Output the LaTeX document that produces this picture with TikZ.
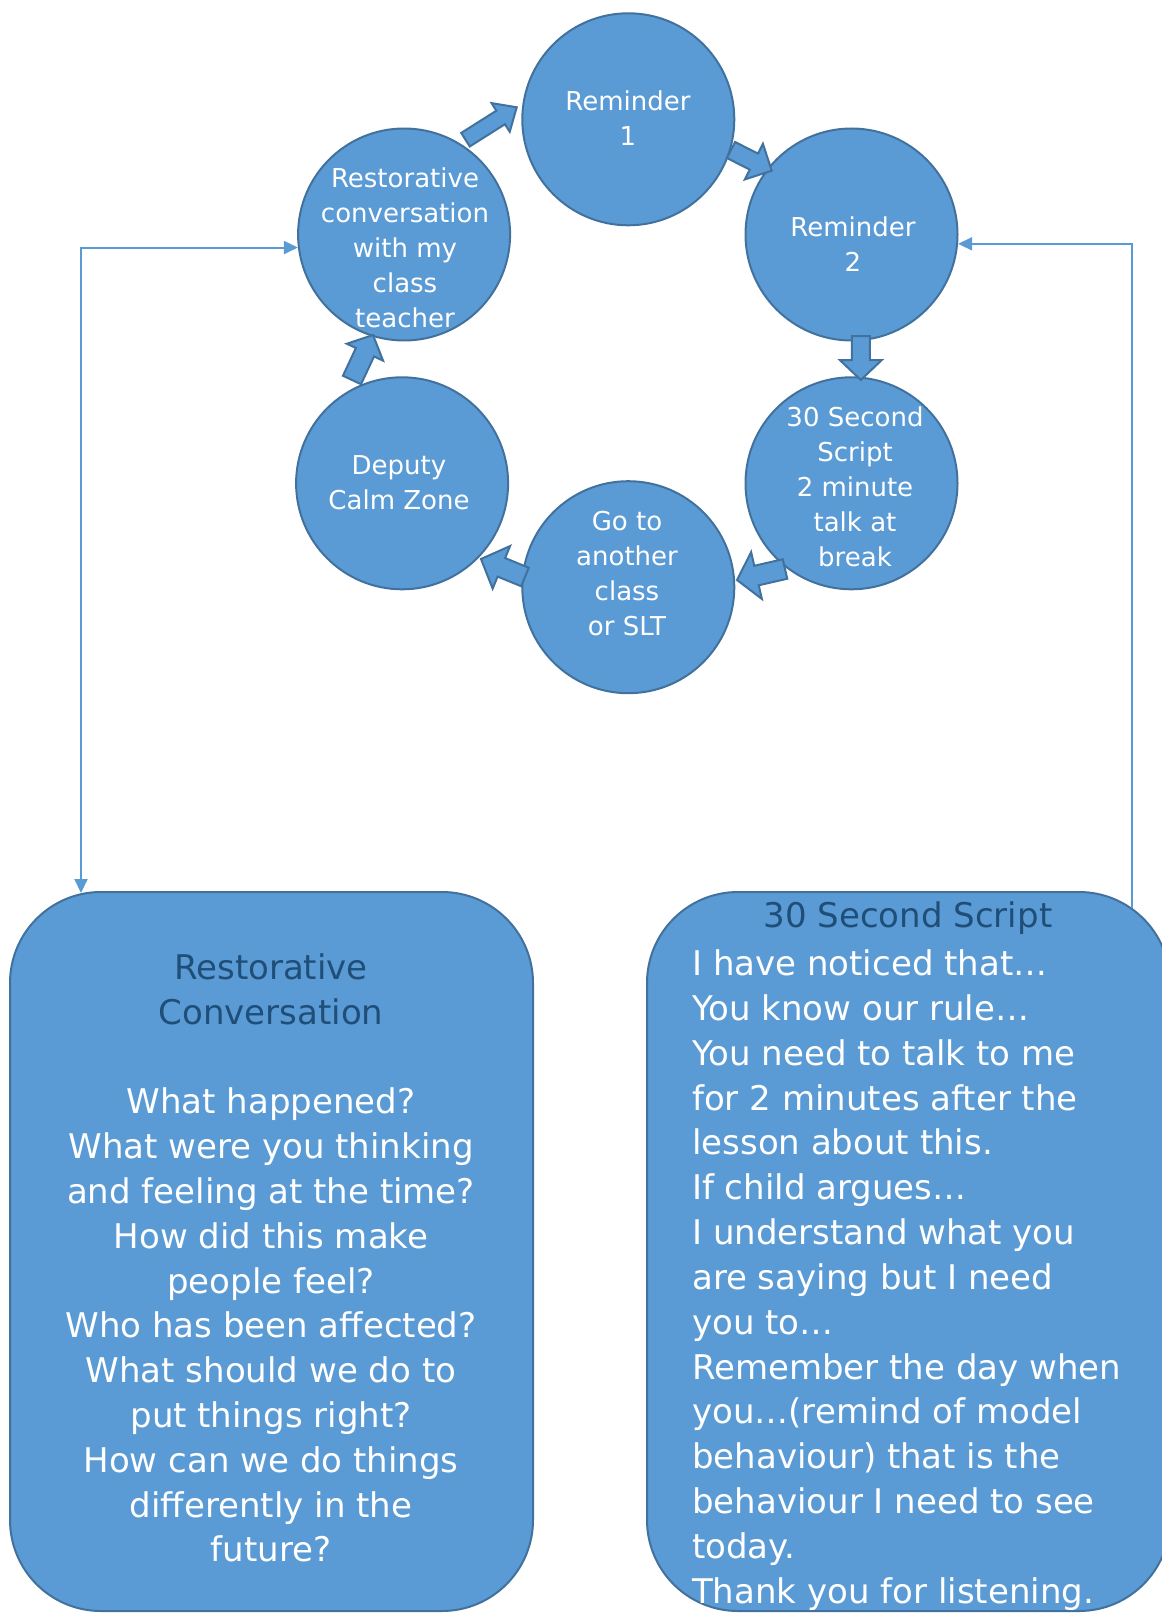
\documentclass[tikz,border=0pt]{standalone}
\usepackage{fontspec}
\setmainfont{DejaVu Sans}
\usetikzlibrary{calc,arrows.meta}
\definecolor{cfill}{HTML}{5B9BD5}
\definecolor{cline}{HTML}{41719C}
\definecolor{ctitle}{HTML}{1F4E79}
\tikzset{
  stage/.style={circle, fill=cfill, draw=cline, line width=2pt, minimum size=212pt, inner sep=0pt},
  stagetext/.style={text=white, align=center, font=\fontsize{26}{35}\selectfont, inner sep=0pt},
  infobox/.style={rectangle, fill=cfill, draw=cline, line width=2pt, rounded corners=91pt, minimum width=523pt, minimum height=719pt, inner sep=0pt},
  boxtext/.style={inner sep=0pt, font=\fontsize{34}{44.8}\selectfont},
  barrow/.style={fill=cfill, draw=cline, line width=2pt, line join=miter},
  conn/.style={draw=cfill, line width=2pt, -{Triangle[length=14pt,width=13pt]}},
  conn2/.style={draw=cfill, line width=2pt, {Triangle[length=14pt,width=13pt]}-{Triangle[length=14pt,width=13pt]}},
}
% block arrow: tail, tip, half shaft width, half head width, head length
\newcommand\blockarr[5]{%
  \coordinate (ba-b) at ($(#2)!#5!(#1)$);
  \draw[barrow] ($(#1)!#3!90:(#2)$) -- ($(ba-b)!#3!90:(#2)$) -- ($(ba-b)!#4!90:(#2)$) -- (#2)
    -- ($(ba-b)!#4!-90:(#2)$) -- ($(ba-b)!#3!-90:(#2)$) -- ($(#1)!#3!-90:(#2)$) -- cycle;
}
\begin{document}
\begin{tikzpicture}[x=1pt,y=-1pt]
\useasboundingbox (0,0) rectangle (1161,1613);

% stages
\node[stage] (r1)   at (628.3,119.3) {};
\node[stage] (r2)   at (851.5,234.5) {};
\node[stage] (s30)  at (851.5,483.3) {};
\node[stage] (go)   at (628.3,587.2) {};
\node[stage] (dep)  at (402.1,483.3) {};
\node[stage] (rest) at (404.1,234.5) {};

\node[stagetext] (t-r1)   at (628,118) {Reminder\\1};
\node[stagetext] (t-r2)   at (853,244) {Reminder\\2};
\node[stagetext] (t-s30)  at (855,487) {30 Second\\Script\\2 minute\\talk at\\break};
\node[stagetext] (t-go)   at (627,574) {Go to\\another\\class\\or SLT};
\node[stagetext] (t-dep)  at (399,483) {Deputy\\Calm Zone};
\node[stagetext] (t-rest) at (405,248) {Restorative\\conversation\\with my\\class\\teacher};

% block arrows
\coordinate (a1t) at (465.5,139.7); \coordinate (a1h) at (516.7,107.3);
\coordinate (a2t) at (731,150);     \coordinate (a2h) at (771.7,170.7);
\coordinate (a3t) at (860.8,336);   \coordinate (a3h) at (860.8,380);
\coordinate (a4t) at (785,569);     \coordinate (a4h) at (737,580);
\coordinate (a5t) at (525,577);     \coordinate (a5h) at (481,559);
\coordinate (a6t) at (352,380);     \coordinate (a6h) at (373,335);
\blockarr{a1t}{a1h}{8pt}{17pt}{19pt}
\blockarr{a2t}{a2h}{9pt}{20pt}{20pt}
\blockarr{a3t}{a3h}{9pt}{21pt}{20pt}
\blockarr{a4t}{a4h}{10pt}{24pt}{20pt}
\blockarr{a5t}{a5h}{10pt}{23pt}{22pt}
\blockarr{a6t}{a6h}{10pt}{20pt}{19pt}

% info boxes
\node[infobox] (lbox) at (271.5,1251.5) {};
\node[infobox] (rbox) at (908.5,1251.5) {};

\node[boxtext, align=center, text=white] (ltext) at (271,1258)
  {\textcolor{ctitle}{Restorative}\\\textcolor{ctitle}{Conversation}\\\mbox{}\\
   What happened?\\What were you thinking\\and feeling at the time?\\How did this make\\people feel?\\
   Who has been affected?\\What should we do to\\put things right?\\How can we do things\\
   differently in the\\future?};

\node[boxtext, text=ctitle] (rtitle) at (908,918) {30 Second Script};
\node[boxtext, align=left, text=white, anchor=west] (rtext) at (692,1280)
  {I have noticed that\dots\\You know our rule\dots\\You need to talk to me\\for 2 minutes after the\\
   lesson about this.\\If child argues\dots\\I understand what you\\are saying but I need\\you to\dots\\
   Remember the day when\\you\dots(remind of model\\behaviour) that is the\\behaviour I need to see\\
   today.\\Thank you for listening.};

% connectors
\coordinate (lfoot) at (81,893);
\coordinate (rfoot) at (1132,908);
\draw[conn2] (lfoot) |- (rest.187);
\draw[conn] (rfoot) |- (r2.355);
\end{tikzpicture}
\end{document}
